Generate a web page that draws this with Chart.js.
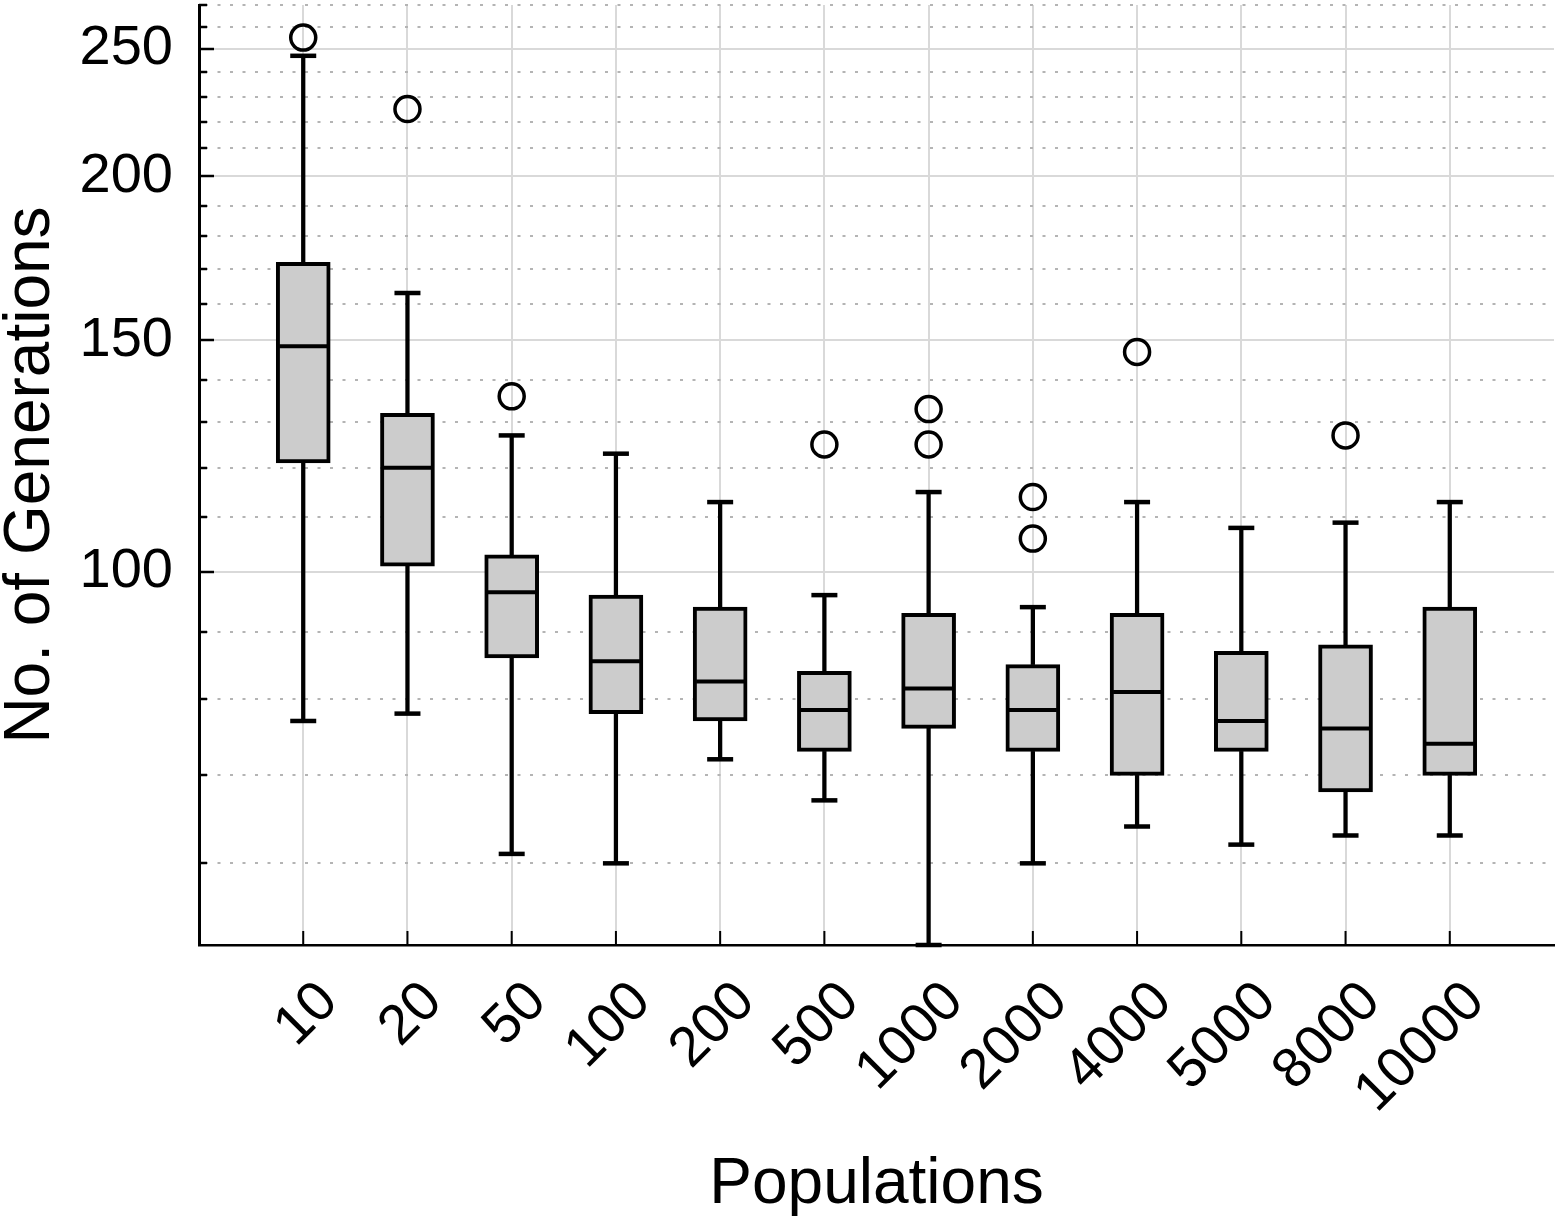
<!DOCTYPE html>
<html>
<head>
<meta charset="utf-8">
<script src="https://cdn.jsdelivr.net/npm/chart.js@4.4.0/dist/chart.umd.min.js"></script>
<style>
  html, body { margin: 0; padding: 0; background: #fff; }
  #wrap { width: 1558px; height: 1221px; position: relative; }
</style>
</head>
<body>
<div id="wrap"><canvas id="chart"></canvas></div>
<script>
// box plot values (generations), one entry per population size
const populations = ['10', '20', '50', '100', '200', '500', '1000', '2000', '4000', '5000', '8000', '10000'];
const whiskerLow  = [77, 78, 61, 60, 72, 67, 52, 60, 64, 62, 63, 63];
const quartile1   = [121, 101, 86, 78, 77, 73, 76, 73, 70, 73, 68, 70];
const medians     = [148.5, 120, 96.5, 85.5, 82.5, 78.5, 81.5, 78.5, 81, 77, 76, 74];
const quartile3   = [172, 132, 103, 96, 94, 84, 93, 85, 93, 87, 88, 94];
const whiskerHigh = [247, 163, 127, 123, 113, 96, 115, 94, 113, 108, 109, 113];
const outliers    = [[255], [225], [136], [], [], [125], [133, 125], [114, 106], [147], [], [127], []];

const yMajorTicks = [100, 150, 200, 250];
const yMinorTicks = [60, 70, 80, 90, 110, 120, 130, 140, 160, 170, 180, 190, 210, 220, 230, 240, 260, 270];
const yMin = 52;
const yMax = 270;

const FONT = "'Liberation Sans', Arial, Helvetica, sans-serif";
Chart.defaults.font.family = FONT;
Chart.defaults.color = '#000';

const xPos = i => i + 1;

// dotted minor grid + inward tick marks
const axisDecor = {
    id: 'axisDecor',
    beforeDatasetsDraw(chart) {
        const { ctx, chartArea: area, scales: { x, y } } = chart;
        ctx.save();
        ctx.strokeStyle = '#b4b4b4';
        ctx.lineWidth = 2.2;
        ctx.setLineDash([3, 9.5]);
        yMinorTicks.forEach(v => {
            const py = Math.round(y.getPixelForValue(v));
            ctx.beginPath();
            ctx.moveTo(area.left + 6, py);
            ctx.lineTo(area.right, py);
            ctx.stroke();
        });
        ctx.setLineDash([]);

        ctx.strokeStyle = '#000';
        ctx.lineWidth = 2.5;
        yMajorTicks.concat(yMinorTicks).forEach(v => {
            const py = Math.round(y.getPixelForValue(v));
            const len = yMajorTicks.includes(v) ? 15 : 8;
            ctx.beginPath();
            ctx.moveTo(area.left, py);
            ctx.lineTo(area.left + len, py);
            ctx.stroke();
        });
        ctx.lineWidth = 2;
        populations.forEach((p, i) => {
            const px = x.getPixelForValue(xPos(i));
            ctx.beginPath();
            ctx.moveTo(px, area.bottom);
            ctx.lineTo(px, area.bottom - 14);
            ctx.stroke();
        });
        ctx.restore();
    }
};

const outlierPoints = populations.flatMap((p, i) => outliers[i].map(v => ({ x: xPos(i), y: v })));
const medianPoints = populations.map((p, i) => ({ x: xPos(i), y: medians[i] }));
const capPoints = populations.flatMap((p, i) => [
    { x: xPos(i), y: whiskerLow[i] },
    { x: xPos(i), y: whiskerHigh[i] },
]);

const pointSet = (data, style, radius, width) => ({
    type: 'scatter',
    data: data,
    pointStyle: style,
    pointRadius: radius,
    pointHoverRadius: radius,
    pointBorderWidth: width,
    pointHoverBorderWidth: width,
    pointBorderColor: '#000',
    pointBackgroundColor: 'rgba(0,0,0,0)',
    clip: false,
});

new Chart(document.getElementById('chart'), {
    type: 'bar',
    data: {
        datasets: [
            pointSet(outlierPoints, 'circle', 12.5, 3.5),
            pointSet(medianPoints, 'line', 24, 4),
            pointSet(capPoints, 'line', 13, 4.5),
            {
                data: populations.map((p, i) => ({ x: xPos(i), y: [quartile1[i], quartile3[i]] })),
                backgroundColor: '#cccccc',
                borderColor: '#000',
                borderWidth: 4,
                borderSkipped: false,
                barThickness: 54,
                grouped: false,
            },
            {
                data: populations.map((p, i) => ({ x: xPos(i), y: [whiskerLow[i], quartile1[i]] })),
                backgroundColor: '#000',
                borderWidth: 0,
                barThickness: 3.6,
                grouped: false,
            },
            {
                data: populations.map((p, i) => ({ x: xPos(i), y: [quartile3[i], whiskerHigh[i]] })),
                backgroundColor: '#000',
                borderWidth: 0,
                barThickness: 3.6,
                grouped: false,
            },
        ]
    },
    options: {
        responsive: true,
        maintainAspectRatio: false,
        animation: false,
        events: [],
        layout: { autoPadding: false, padding: { top: 5, right: 4, left: 0, bottom: 0 } },
        plugins: {
            legend: { display: false },
            tooltip: { enabled: false },
        },
        scales: {
            x: {
                type: 'linear',
                offset: false,
                min: 0,
                max: populations.length + 1,
                afterBuildTicks: scale => {
                    scale.ticks = populations.map((p, i) => ({ value: xPos(i) }));
                },
                afterFit: scale => {
                    scale.height = 276;
                    scale.paddingLeft = 0;
                    scale.paddingRight = 0;
                },
                grid: { color: '#d9d9d9', lineWidth: 2, drawTicks: false, offset: false },
                border: { color: '#000', width: 2.5 },
                ticks: {
                    autoSkip: false,
                    minRotation: 45,
                    maxRotation: 45,
                    labelOffset: 26,
                    padding: 24,
                    color: '#000',
                    font: { size: 56 },
                    callback: v => populations[v - 1],
                },
                title: {
                    display: true,
                    text: 'Populations',
                    color: '#000',
                    font: { size: 64, lineHeight: 1 },
                    padding: { top: 0, bottom: 4 },
                },
            },
            y: {
                type: 'logarithmic',
                min: yMin,
                max: yMax,
                afterBuildTicks: scale => {
                    scale.ticks = yMinorTicks.concat(yMajorTicks)
                        .sort((a, b) => a - b)
                        .map(v => ({ value: v }));
                },
                afterFit: scale => {
                    scale.width = 199;
                    scale.paddingTop = 0;
                    scale.paddingBottom = 0;
                },
                grid: {
                    lineWidth: 2,
                    drawTicks: false,
                    color: c => (c.tick && yMajorTicks.includes(c.tick.value)) ? '#d9d9d9' : 'rgba(0,0,0,0)',
                },
                border: { color: '#000', width: 3 },
                ticks: {
                    autoSkip: false,
                    padding: 26,
                    color: '#000',
                    font: { size: 56 },
                    callback: v => yMajorTicks.includes(v) ? String(v) : '',
                },
                title: {
                    display: true,
                    text: 'No. of Generations',
                    color: '#000',
                    font: { size: 64, lineHeight: 0.9 },
                    padding: { top: 3, bottom: 22 },
                },
            },
        },
    },
    plugins: [axisDecor],
});
</script>
</body>
</html>
